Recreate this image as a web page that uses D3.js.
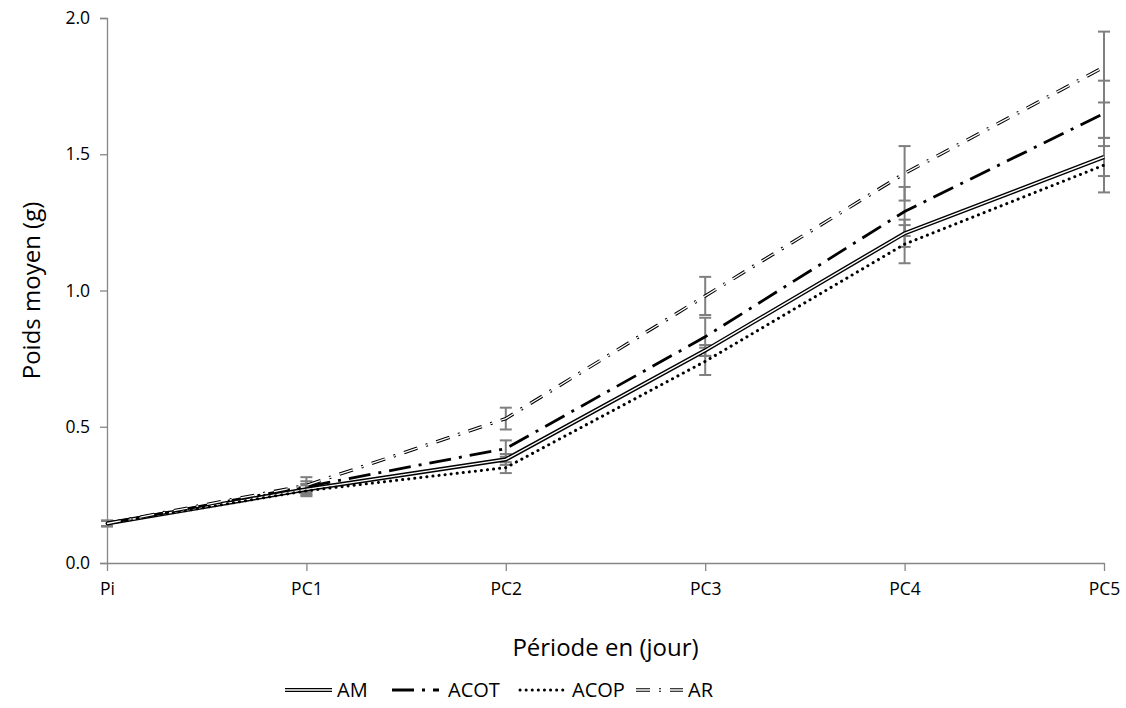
<!DOCTYPE html>
<html>
<head>
<meta charset="utf-8">
<script src="https://cdn.jsdelivr.net/npm/d3@7"></script>
<style>
  body { margin: 0; background: #fff; }
  text { font-family: "Open Sans", "Noto Sans", sans-serif; fill: #000; }
</style>
</head>
<body>
<div id="chart"></div>
<script>
// Width and height
var chart_width  = 1126;
var chart_height = 708;

// data
var periods = ["Pi", "PC1", "PC2", "PC3", "PC4", "PC5"];
var y_ticks = [0, 0.5, 1.0, 1.5, 2.0];

var am_values   = [0.145, 0.27, 0.38, 0.78, 1.21, 1.49];
var acot_values = [0.145, 0.28, 0.42, 0.83, 1.29, 1.65];
var acop_values = [0.145, 0.265, 0.35, 0.74, 1.17, 1.46];
var ar_values   = [0.145, 0.285, 0.53, 0.98, 1.43, 1.82];

var am_err   = [0.01, 0.02, 0.02, 0.02, 0.05, 0.07];
var acot_err = [0.01, 0.02, 0.03, 0.07, 0.09, 0.12];
var acop_err = [0.01, 0.02, 0.02, 0.05, 0.07, 0.10];
var ar_err   = [0.01, 0.03, 0.04, 0.07, 0.10, 0.13];

var margin = {left: 107, right: 22, top: 18, bottom: 145};

var x = d3.scalePoint()
    .domain(periods)
    .range([margin.left, chart_width - margin.right]);

var y = d3.scaleLinear()
    .domain([0, 2])
    .range([chart_height - margin.bottom, margin.top]);

var svg = d3.select("#chart")
    .append("svg")
    .attr("width", chart_width)
    .attr("height", chart_height);

var axis_color = "#868686";

// y axis
var yAxis = svg.append("g")
    .attr("transform", "translate(" + margin.left + ",0)")
    .call(d3.axisLeft(y).tickValues(y_ticks).tickFormat(d3.format(".1f")).tickSize(7).tickPadding(10));
yAxis.selectAll("path, line").attr("stroke", axis_color).attr("stroke-width", 1.3);
yAxis.selectAll("text").style("font-size", "17.5px").attr("fill", "#000");

// x axis
var xAxis = svg.append("g")
    .attr("transform", "translate(0," + y(0) + ")")
    .call(d3.axisBottom(x).tickSize(8).tickPadding(12).tickSizeOuter(0));
xAxis.selectAll("path, line").attr("stroke", axis_color).attr("stroke-width", 1.3);
xAxis.selectAll("text").style("font-size", "17.5px").attr("fill", "#000");

// axis titles
svg.append("text")
    .attr("x", (margin.left + chart_width - margin.right) / 2)
    .attr("y", 656)
    .attr("text-anchor", "middle")
    .style("font-size", "24px")
    .text("Période en (jour)");

svg.append("text")
    .attr("transform", "translate(40," + ((margin.top + y(0)) / 2) + ") rotate(-90)")
    .attr("text-anchor", "middle")
    .style("font-size", "24px")
    .text("Poids moyen (g)");

var series = [
  {name: "AM",   values: am_values,   err: am_err},
  {name: "ACOT", values: acot_values, err: acot_err},
  {name: "ACOP", values: acop_values, err: acop_err},
  {name: "AR",   values: ar_values,   err: ar_err}
];

// draw a series stroke in its own style
function styleLine(sel, name){
  if(name === "AM"){
    sel.append("path").attr("stroke", "#000").attr("stroke-width", 4.2);
    sel.append("path").attr("stroke", "#fff").attr("stroke-width", 1.4);
  } else if(name === "ACOT"){
    sel.append("path").attr("stroke", "#000").attr("stroke-width", 2.8)
      .attr("stroke-dasharray", "22,8,3,8");
  } else if(name === "ACOP"){
    sel.append("path").attr("stroke", "#000").attr("stroke-width", 3)
      .attr("stroke-linecap", "round").attr("stroke-dasharray", "0.1,6");
  } else {
    sel.append("path").attr("stroke", "#000").attr("stroke-width", 3.4)
      .attr("stroke-dasharray", "14,9,2,9");
    sel.append("path").attr("stroke", "#fff").attr("stroke-width", 1.3)
      .attr("stroke-dasharray", "14,9,2,9");
  }
}

var line = d3.line()
    .x(function(d, i){ return x(periods[i]); })
    .y(function(d){ return y(d); });

// error bars
series.forEach(function(s){
  var g = svg.append("g").attr("class", "err");
  s.values.forEach(function(v, i){
    var cx = x(periods[i]);
    var lo = y(v - s.err[i]), hi = y(v + s.err[i]);
    g.append("line").attr("x1", cx).attr("x2", cx).attr("y1", lo).attr("y2", hi)
      .attr("stroke", "#7f7f7f").attr("stroke-width", 2);
    [lo, hi].forEach(function(yy){
      g.append("line").attr("x1", cx - 6).attr("x2", cx + 6).attr("y1", yy).attr("y2", yy)
        .attr("stroke", "#7f7f7f").attr("stroke-width", 2);
    });
  });
});

// lines
series.forEach(function(s){
  var g = svg.append("g").attr("fill", "none");
  styleLine(g, s.name);
  g.selectAll("path").attr("d", line(s.values));
});

// legend
var legend_pos = [{x: 285, tx: 337}, {x: 392, tx: 448}, {x: 520, tx: 572}, {x: 636, tx: 688}];
series.forEach(function(s, i){
  var g = svg.append("g").attr("fill", "none");
  styleLine(g, s.name);
  g.selectAll("path").attr("d", "M" + legend_pos[i].x + ",690H" + (legend_pos[i].x + 47));
  svg.append("text")
    .attr("x", legend_pos[i].tx)
    .attr("y", 697)
    .style("font-size", "20px")
    .text(s.name);
});
</script>
</body>
</html>
